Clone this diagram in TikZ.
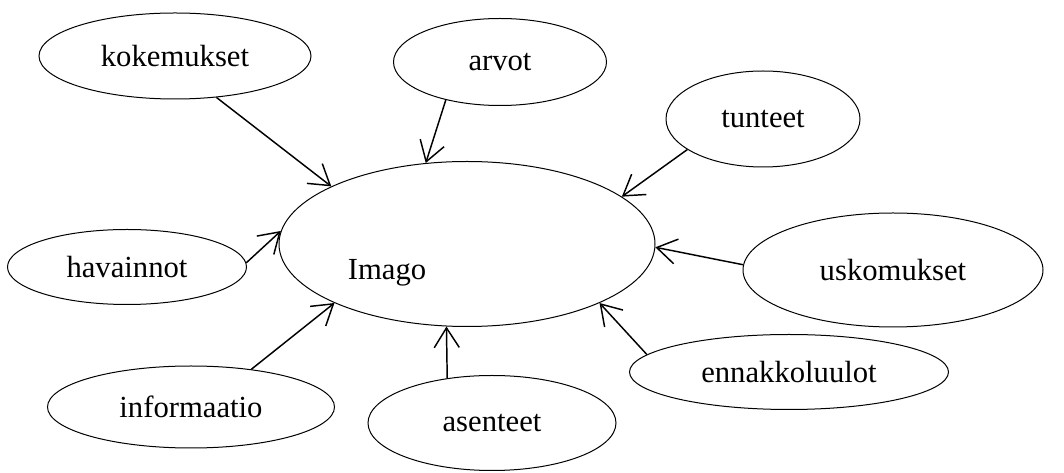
\documentclass[tikz,border=0pt]{standalone}
\usepackage{fontspec}
\setmainfont{Liberation Serif}
\usetikzlibrary{arrows.meta, shapes.geometric}

\begin{document}
\begin{tikzpicture}[
    x=0.75pt, y=-0.75pt,
    every node/.style={font=\fontsize{23}{27}\selectfont},
    bubble/.style={ellipse, draw, line width=0.75pt, inner sep=0pt},
    arrow/.style={-{Straight Barb[length=5.2mm, width=6.6mm]}, line width=1.1pt}]

  \useasboundingbox (0,0) rectangle (1064,473);

  \node[bubble, minimum width=282pt, minimum height=123.75pt] (imago) at (467,244) {};
  \node (imagotxt) at (387,273) {Imago};

  \node[bubble, minimum width=204pt, minimum height=64.5pt]     (kok)  at (175,56)  {kokemukset};
  \node[bubble, minimum width=159.75pt, minimum height=65.25pt] (arv)  at (500,62)  {arvot};
  \node[bubble, minimum width=145.5pt, minimum height=72pt]     (tun)  at (763,119) {tunteet};
  \node[bubble, minimum width=179.25pt, minimum height=56.25pt] (hav)  at (127,267) {havainnot};
  \node[bubble, minimum width=225pt, minimum height=85.5pt]     (usk)  at (893,270) {uskomukset};
  \node[bubble, minimum width=239.25pt, minimum height=56.25pt] (enn)  at (789,372) {ennakkoluulot};
  \node[bubble, minimum width=215.25pt, minimum height=61.5pt]  (inf)  at (191,407) {informaatio};
  \node[bubble, minimum width=186pt, minimum height=71.25pt]    (ase)  at (492,423) {asenteet};

  \draw[arrow] (kok.-45)    -- (imago.157);
  \draw[arrow] (arv.-145)   -- (imago.117);
  \draw[arrow] (tun.-158)   -- (imago.17);
  \draw[arrow] (hav.2)      -- (imago.176);
  \draw[arrow] (usk.178)    -- (imago.-1);
  \draw[arrow] (enn.173)    -- (imago.-24);
  \draw[arrow] (inf.32)     -- (imago.-156);
  \draw[arrow] (ase.135.6)  -- (imago.-104);
\end{tikzpicture}
\end{document}
